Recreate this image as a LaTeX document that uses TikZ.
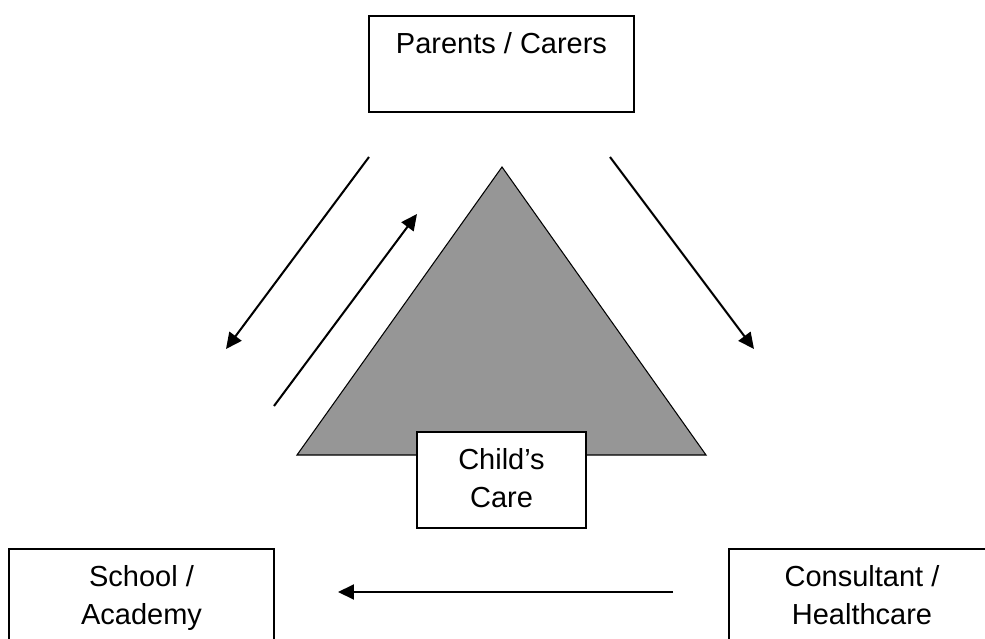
\documentclass[tikz,border=0pt]{standalone}
\usepackage{fontspec}
\setmainfont{Liberation Sans}
\usetikzlibrary{arrows.meta}
\newcommand{\boxstrut}{\rule[-6.5pt]{0pt}{43.8pt}}

\begin{document}
\begin{tikzpicture}[x=0.02cm,y=-0.02cm,font=\fontsize{16.5}{21.6}\selectfont,text centered]
            \tikzstyle{box}=[draw,line width=1.1pt,fill=white,align=center,minimum height=1.92cm,inner sep=0pt,
                execute at begin node=\boxstrut]
            \tikzstyle{flow}=[-{Triangle[length=0.32cm,width=0.3cm]},line width=1.15pt]
            \clip (0,0) rectangle (985,639);

            % triangle
            \draw[fill={rgb,255:red,150;green,150;blue,150},line width=0.6pt] (502,167) -- (297,455) -- (706,455) -- cycle;

            \node[box,minimum width=5.3cm] (parents) at (501.5,64) {Parents / Carers\\ \mbox{}};
            \node[box,minimum width=3.38cm] (child) at (501.5,480) {Child’s\\Care};
            \node[box,minimum width=5.3cm] (school) at (141.5,597) {School /\\Academy};
            \node[box,minimum width=5.32cm] (consult) at (862,597) {Consultant /\\Healthcare};

            \coordinate (pl) at (369,157);
            \coordinate (sl) at (226,349);
            \coordinate (si) at (274,406);
            \coordinate (pi) at (417,214);
            \coordinate (pr) at (610,157);
            \coordinate (cr) at (754,349);
            \coordinate (cb) at (673,592);
            \coordinate (sb) at (338,592);

            \draw[flow] (pl) -- (sl);
            \draw[flow] (si) -- (pi);
            \draw[flow] (pr) -- (cr);
            \draw[flow] (cb) -- (sb);
        \end{tikzpicture}
\end{document}
